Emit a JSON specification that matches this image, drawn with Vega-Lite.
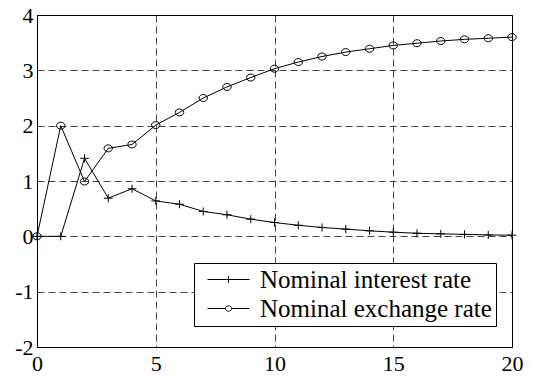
{
  "$schema": "https://vega.github.io/schema/vega-lite/v6.json",
  "width": 475,
  "height": 332,
  "autosize": "none",
  "padding": {"left": 37, "top": 15, "right": 21, "bottom": 31},
  "background": "white",
  "config": {
    "view": {"stroke": "black", "strokeWidth": 1},
    "axis": {
      "labelFont": "Liberation Serif",
      "labelFontSize": 22,
      "labelColor": "black",
      "labelFlush": false,
      "labelOverlap": false,
      "labelExpr": "'' + datum.value",
      "domain": false,
      "ticks": false,
      "title": null,
      "grid": true,
      "gridWidth": 1
    }
  },
  "data": {
    "values": [
      {"t": 0, "series": "Nominal interest rate", "value": 0},
      {"t": 1, "series": "Nominal interest rate", "value": 0},
      {"t": 2, "series": "Nominal interest rate", "value": 1.41},
      {"t": 3, "series": "Nominal interest rate", "value": 0.69},
      {"t": 4, "series": "Nominal interest rate", "value": 0.86},
      {"t": 5, "series": "Nominal interest rate", "value": 0.64},
      {"t": 6, "series": "Nominal interest rate", "value": 0.58},
      {"t": 7, "series": "Nominal interest rate", "value": 0.45},
      {"t": 8, "series": "Nominal interest rate", "value": 0.39},
      {"t": 9, "series": "Nominal interest rate", "value": 0.31},
      {"t": 10, "series": "Nominal interest rate", "value": 0.25},
      {"t": 11, "series": "Nominal interest rate", "value": 0.2},
      {"t": 12, "series": "Nominal interest rate", "value": 0.16},
      {"t": 13, "series": "Nominal interest rate", "value": 0.13},
      {"t": 14, "series": "Nominal interest rate", "value": 0.1},
      {"t": 15, "series": "Nominal interest rate", "value": 0.075},
      {"t": 16, "series": "Nominal interest rate", "value": 0.055},
      {"t": 17, "series": "Nominal interest rate", "value": 0.045},
      {"t": 18, "series": "Nominal interest rate", "value": 0.035},
      {"t": 19, "series": "Nominal interest rate", "value": 0.025},
      {"t": 20, "series": "Nominal interest rate", "value": 0.02},
      {"t": 0, "series": "Nominal exchange rate", "value": 0},
      {"t": 1, "series": "Nominal exchange rate", "value": 2.0},
      {"t": 2, "series": "Nominal exchange rate", "value": 0.99},
      {"t": 3, "series": "Nominal exchange rate", "value": 1.59},
      {"t": 4, "series": "Nominal exchange rate", "value": 1.66},
      {"t": 5, "series": "Nominal exchange rate", "value": 2.01},
      {"t": 6, "series": "Nominal exchange rate", "value": 2.24},
      {"t": 7, "series": "Nominal exchange rate", "value": 2.5},
      {"t": 8, "series": "Nominal exchange rate", "value": 2.7},
      {"t": 9, "series": "Nominal exchange rate", "value": 2.87},
      {"t": 10, "series": "Nominal exchange rate", "value": 3.03},
      {"t": 11, "series": "Nominal exchange rate", "value": 3.15},
      {"t": 12, "series": "Nominal exchange rate", "value": 3.25},
      {"t": 13, "series": "Nominal exchange rate", "value": 3.33},
      {"t": 14, "series": "Nominal exchange rate", "value": 3.39},
      {"t": 15, "series": "Nominal exchange rate", "value": 3.45},
      {"t": 16, "series": "Nominal exchange rate", "value": 3.49},
      {"t": 17, "series": "Nominal exchange rate", "value": 3.53},
      {"t": 18, "series": "Nominal exchange rate", "value": 3.56},
      {"t": 19, "series": "Nominal exchange rate", "value": 3.58},
      {"t": 20, "series": "Nominal exchange rate", "value": 3.6}
    ]
  },
  "encoding": {
    "x": {
      "field": "t",
      "type": "quantitative",
      "scale": {"domain": [0, 20], "nice": false, "zero": false},
      "axis": {
        "values": [0, 5, 10, 15, 20],
        "labelPadding": 6,
        "gridColor": {"condition": {"test": "datum.value === 0 || datum.value === 20", "value": "black"}, "value": "#444444"},
        "gridDash": {"condition": {"test": "datum.value === 0 || datum.value === 20", "value": []}, "value": [7, 4]}
      }
    },
    "y": {
      "field": "value",
      "type": "quantitative",
      "scale": {"domain": [-2, 4], "nice": false, "zero": false},
      "axis": {
        "values": [-2, -1, 0, 1, 2, 3, 4],
        "labelPadding": 4,
        "labelBaseline": "middle",
        "gridColor": {"condition": {"test": "datum.value === -2 || datum.value === 4", "value": "black"}, "value": "#444444"},
        "gridDash": {"condition": {"test": "datum.value === -2 || datum.value === 4", "value": []}, "value": [7, 4]}
      }
    }
  },
  "layer": [
    {
      "mark": {"type": "line", "color": "black", "strokeWidth": 1},
      "encoding": {"detail": {"field": "series"}}
    },
    {
      "mark": {"type": "point", "filled": false, "color": "black", "size": 49, "strokeWidth": 1, "opacity": 1},
      "encoding": {
        "shape": {
          "field": "series",
          "type": "nominal",
          "scale": {
            "domain": ["Nominal interest rate", "Nominal exchange rate"],
            "range": [
              "M-1.25,0H1.25M0,-1.15V1.15",
              "M-1.2,0A1.2,1 0 1,0 1.2,0A1.2,1 0 1,0 -1.2,0Z"
            ]
          },
          "legend": null
        }
      }
    },
    {
      "mark": {"type": "point", "filled": false, "color": "black", "strokeWidth": 1, "opacity": 0},
      "encoding": {
        "shape": {
          "field": "series",
          "type": "nominal",
          "scale": {
            "domain": ["Nominal interest rate", "Nominal exchange rate"],
            "range": [
              "M-2.1,0H2.1M0,-0.35V0.35",
              "M-2.1,0H-0.32M0.32,0H2.1M-0.32,0A0.32,0.27 0 1,0 0.32,0A0.32,0.27 0 1,0 -0.32,0Z"
            ]
          },
          "legend": {
            "title": null,
            "orient": "none",
            "legendX": 157,
            "legendY": 248,
            "strokeColor": "black",
            "fillColor": "white",
            "cornerRadius": 0,
            "padding": 4,
            "rowPadding": 3,
            "symbolSize": 400,
            "symbolOffset": 18,
            "labelOffset": 19,
            "symbolOpacity": 1,
            "symbolStrokeColor": "black",
            "symbolFillColor": "transparent",
            "symbolStrokeWidth": 1,
            "labelFont": "Liberation Serif",
            "labelFontSize": 25,
            "labelColor": "black",
            "labelLimit": 400
          }
        }
      }
    }
  ],
  "resolve": {"scale": {"shape": "independent"}}
}
